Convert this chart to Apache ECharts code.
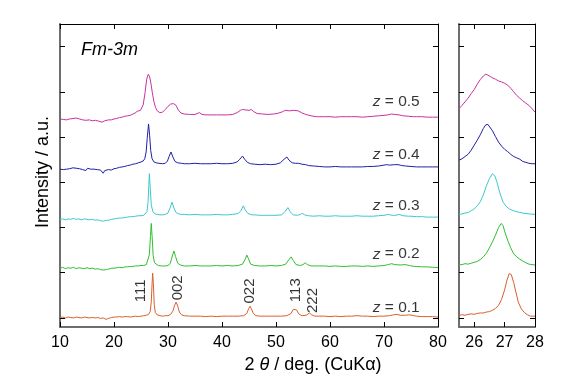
<!DOCTYPE html>
<html><head><meta charset="utf-8">
<script src="https://cdn.jsdelivr.net/npm/echarts@6/dist/echarts.min.js"></script>
<style>html,body{margin:0;padding:0;background:#fff}#c{width:585px;height:387px}</style>
</head><body><div id="c"></div>
<script>
// ---- data ----
const zValues = ['0.1', '0.2', '0.3', '0.4', '0.5'];
const offsets = [0, 110, 220, 332, 443];          // vertical stacking offsets (a.u.)
const zLabelLift = [23, 31, 29, 30, 35];          // z-label height above each offset (a.u.)
const zLabelAt = 76.7;                             // 2θ where z-labels end

const xTicks = [10, 20, 30, 40, 50, 60, 70, 80];
const zoomTicks = [26, 27, 28];
const yTicks = [0, 100, 200, 300, 400, 500, 600];

const hklNames = ['111', '002', '022', '113', '222'];
const hklAt = [25.0, 31.85, 45.2, 53.7, 56.8];
const hklBase = [35, 39, 32, 35, 11];

// z = 0.1
const pattern01 = [[10,1],[10.5,2],[11,0],[11.5,2],[12,1],[12.5,0],[13,2],[13.5,1],[14,0],[14.5,2],[15,1],[15.5,0],[16,1],[16.5,0],[17,1],[17.5,-1],[18,0],[18.5,-3],[19,-1],[19.5,1],[20,2],[20.5,2],[21,3],[21.5,2],[22,3],[22.5,3],[23,2],[23.5,3],[24,4],[24.5,3],[25,4],[25.5,5],[26,6],[26.4,8],[26.7,14],[26.9,35],[27.05,75],[27.16,99],[27.28,78],[27.45,30],[27.65,12],[28,7],[28.5,5],[29,4],[29.5,5],[30,5],[30.5,8],[30.9,15],[31.2,27],[31.5,35],[31.8,26],[32.1,13],[32.5,7],[33,5],[34,4],[35,4],[36,4],[37,3],[38,4],[39,3],[40,4],[41,4],[42,4],[43,4],[44,5],[44.6,10],[44.95,21],[45.2,26],[45.45,20],[45.8,10],[46.3,5],[47,4],[48,4],[49,4],[50,4],[51,4],[52,5],[52.8,10],[53.2,19],[53.5,23],[53.8,18],[54.2,9],[54.8,5],[55.6,6],[56.2,11],[56.6,7],[57.2,4],[58,4],[59,4],[60,3],[61,4],[62,3],[63,4],[64,4],[65,5],[66,4],[67,4],[68,3],[69,4],[70,4],[71,5],[71.8,7],[72.4,8],[73,6],[74,6],[74.7,7],[75.5,5],[76,4],[77,3],[78,3],[79,3],[80,2]];
// z = 0.2
const pattern02 = [[10,0],[10.5,2],[11,-1],[11.5,1],[12,0],[12.5,2],[13,-1],[13.5,1],[14,0],[14.5,-1],[15,1],[15.5,-1],[16,0],[16.5,-2],[17,-1],[17.5,-3],[18,-4],[18.3,-7],[18.6,-3],[19,-2],[19.5,0],[20,0],[20.5,1],[21,2],[21.5,1],[22,3],[22.5,3],[23,4],[23.5,4],[24,5],[24.5,5],[25,6],[25.5,6],[26,8],[26.3,12],[26.55,30],[26.75,70],[26.9,99],[27.05,72],[27.25,28],[27.5,12],[27.8,8],[28.2,6],[28.8,5],[29.5,5],[30,6],[30.4,10],[30.8,27],[31.1,38],[31.4,26],[31.8,11],[32.3,7],[33,5],[34,5],[35,6],[36,5],[37,5],[38,5],[39,6],[40,5],[41,6],[42,5],[43,6],[43.8,9],[44.3,20],[44.6,29],[44.9,21],[45.3,9],[46,6],[47,5],[48,5],[49,6],[50,5],[51,6],[51.8,9],[52.4,19],[52.8,25],[53.2,17],[53.7,8],[54.5,6],[55,8],[55.4,12],[55.8,8],[56.5,5],[57.5,5],[58,5],[59,5],[60,4],[61,5],[62,4],[63,4],[64,5],[65,5],[66,4],[67,5],[68,4],[69,5],[70,6],[70.8,8],[71.4,10],[72,8],[73,7],[73.9,8],[74.7,6],[75.5,4],[76,4],[77,3],[78,3],[79,2],[80,1.5]];
// z = 0.3
const pattern03 = [[10,-2],[10.5,-1],[11,-3],[11.5,-1],[12,-2],[12.5,0],[13,-2],[13.5,-1],[14,-3],[14.5,-1],[15,-2],[15.5,-3],[16,-2],[16.5,-4],[17,-3],[17.5,-5],[18,-6],[18.3,-9],[18.6,-4],[19,-4],[19.5,-2],[20,-1],[20.5,0],[21,1],[21.5,1],[22,2],[22.5,3],[23,4],[23.5,4],[24,5],[24.5,6],[25,6],[25.5,7],[25.8,9],[26.1,15],[26.3,35],[26.45,75],[26.55,99],[26.7,70],[26.9,30],[27.2,15],[27.6,10],[28,9],[28.5,8],[29,8],[29.5,9],[30,12],[30.4,24],[30.75,36],[31.1,23],[31.5,13],[32,10],[32.5,9],[33,9],[34,8],[35,9],[36,8],[37,8],[38,8],[39,9],[40,8],[41,8],[42,9],[43,11],[43.5,17],[43.95,28],[44.3,19],[44.8,11],[45.5,8],[46,8],[47,7],[48,7],[49,7],[50,7],[51,8],[51.6,14],[52.2,24],[52.6,15],[53.2,8],[54,7],[54.5,9],[54.9,11],[55.3,8],[56,6],[57,5],[58,6],[59,5],[60,5],[61,6],[62,5],[63,5],[64,5],[65,6],[66,5],[67,5],[68,5],[69,6],[70,7],[70.8,9],[71.5,7],[72.2,7],[72.8,9],[73.5,6],[74.5,5],[75,5],[76,4],[77,4],[78,3],[79,3],[80,3]];
// z = 0.4
const pattern04 = [[10,-3],[10.3,0],[10.6,-4],[10.9,-1],[11.2,-3],[11.5,1],[11.8,-2],[12.1,-4],[12.4,0],[12.7,-3],[13,-1],[13.3,-5],[13.6,-2],[13.9,0],[14.2,-4],[14.5,-2],[14.8,-6],[15.1,-1],[15.4,-4],[15.7,-3],[16,-7],[16.3,-3],[16.6,-6],[16.9,-4],[17.2,-8],[17.5,-5],[17.8,-9],[18.0,-12],[18.3,-6],[18.6,-8],[19,-4],[19.5,-5],[20,-2],[20.5,-1],[21,1],[21.5,2],[22,3],[22.5,5],[23,6],[23.5,8],[24,9],[24.5,11],[25,13],[25.4,15],[25.7,20],[25.95,35],[26.15,65],[26.4,97],[26.6,72],[26.8,38],[27.05,20],[27.4,13],[27.8,11],[28.3,10],[29,9],[29.5,10],[29.9,15],[30.2,25],[30.55,35],[30.9,24],[31.3,14],[31.8,11],[32.5,10],[33,9],[34,9],[35,10],[36,9],[37,9],[38,9],[39,10],[40,9],[41,9],[42,10],[42.8,13],[43.3,19],[43.8,26],[44.2,19],[44.7,12],[45.3,9],[46,8],[47,7],[48,8],[49,7],[50,8],[50.8,11],[51.5,19],[52,24],[52.4,17],[53,11],[53.6,10],[54.2,10],[54.8,8],[55.5,7],[56,5],[57,4],[58,3],[59,2],[60,2],[61,3],[62,2],[63,2],[64,2],[65,2],[66,2],[67,3],[68,3],[69,4],[70,6],[70.5,7],[71,6],[72,7],[72.6,7],[73.3,5],[74,4],[75,3],[76,2],[77,2],[78,2],[79,2],[80,2]];
// z = 0.5
const pattern05 = [[10,-3],[10.3,-1],[10.6,-4],[10.9,-2],[11.2,-5],[11.5,-1],[11.8,-3],[12.1,-5],[12.4,-2],[12.7,-4],[13,-1],[13.3,-5],[13.6,-3],[13.9,-2],[14.2,-5],[14.5,-3],[14.8,-6],[15.1,-2],[15.4,-5],[15.7,-4],[16,-7],[16.3,-4],[16.6,-6],[16.9,-5],[17.2,-8],[17.5,-6],[17.8,-10],[18.0,-12],[18.3,-7],[18.6,-8],[19,-5],[19.5,-5],[20,-3],[20.5,-2],[21,0],[21.5,1],[22,3],[22.5,4],[23,5],[23.5,8],[23.9,10],[24.3,14],[24.6,12],[24.9,16],[25.4,28],[25.75,55],[26.05,85],[26.35,96],[26.6,90],[26.85,75],[27.1,55],[27.4,35],[27.7,22],[28,15],[28.5,11],[29,12],[29.5,18],[30,25],[30.5,30],[31,31],[31.5,27],[31.9,17],[32.4,10],[33,8],[34,7],[35,7],[35.8,11],[36.3,7],[37,6],[38,6],[39,6],[40,6],[41,6],[42,7],[42.8,11],[43.4,16],[43.8,18],[44.4,17],[45,16],[45.4,18],[45.9,13],[46.5,9],[47.5,8],[48.5,7],[49.6,8],[50.5,10],[51.2,13],[51.7,16],[52.5,15],[53.3,16],[54.1,15],[54.7,11],[55.5,7],[56.5,4],[57.5,2],[58,2],[59,2],[60,2],[61,1],[62,2],[63,2],[64,2],[65,2],[66,1],[67,2],[68,3],[69,4],[70,5],[70.7,6],[71.4,8],[72,7],[72.8,6],[73.5,4],[74.5,3],[75.5,2],[76,2],[77,2],[78,1],[79,1],[80,1]];

// zoomed 111 region (own scaling, absolute a.u.)
const zoom01 = [[25.5,6],[25.6,7],[25.7,6],[25.8,8],[25.9,9],[26.0,8],[26.1,10],[26.2,11],[26.3,11],[26.4,13],[26.5,14],[26.6,17],[26.7,21],[26.8,28],[26.9,41],[27.0,62],[27.08,84],[27.15,98],[27.22,96],[27.3,78],[27.38,55],[27.45,35],[27.55,20],[27.65,12],[27.75,7],[27.85,4],[28.0,4]];
const zoom02 = [[25.5,117],[25.6,118],[25.7,120],[25.8,119],[25.9,121],[26.0,123],[26.1,125],[26.2,129],[26.3,135],[26.4,143],[26.5,155],[26.6,168],[26.7,183],[26.8,200],[26.89,209],[26.95,204],[27.0,192],[27.1,172],[27.2,155],[27.3,142],[27.4,135],[27.5,130],[27.6,126],[27.7,122],[27.8,119],[27.9,118],[28.0,117]];
const zoom03 = [[25.5,229],[25.6,230],[25.7,232],[25.8,233],[25.9,237],[26.0,241],[26.1,248],[26.2,257],[26.3,272],[26.4,292],[26.5,308],[26.6,319],[26.68,314],[26.75,300],[26.85,275],[26.95,256],[27.05,247],[27.15,241],[27.3,237],[27.45,234],[27.6,232],[27.8,230],[28.0,229]];
const zoom04 = [[25.5,349],[25.6,352],[25.7,357],[25.8,362],[25.9,371],[26.0,382],[26.1,393],[26.2,405],[26.3,419],[26.38,427],[26.45,428],[26.5,425],[26.6,414],[26.7,401],[26.8,389],[26.9,380],[27.0,373],[27.1,368],[27.2,362],[27.3,357],[27.4,354],[27.5,351],[27.6,346],[27.7,344],[27.75,347],[27.8,342],[27.9,341],[28.0,341]];
const zoom05 = [[25.5,463],[25.6,470],[25.7,478],[25.8,486],[25.9,496],[26.0,505],[26.1,517],[26.2,527],[26.3,535],[26.38,539],[26.45,537],[26.53,534],[26.6,531],[26.7,528],[26.8,524],[26.9,522],[27.0,519],[27.1,515],[27.2,508],[27.3,500],[27.4,492],[27.5,486],[27.6,480],[27.7,475],[27.8,470],[27.9,463],[28.0,455]];

const patterns = [pattern01, pattern02, pattern03, pattern04, pattern05];
const zooms = [zoom01, zoom02, zoom03, zoom04, zoom05];
const colors = ['#d8602c', '#2fbf2f', '#3cc8d0', '#2020a8', '#c8329f'];

// ---- chart ----
const FONT = 'Liberation Sans, Arial, Helvetica, sans-serif';
const chart = echarts.init(document.getElementById('c'), null, {renderer: 'canvas'});

function xAxisCfg(grid, pos, min, max, ticks, labels, gray) {
  return {
    gridIndex: grid, type: 'value', position: pos, min: min, max: max,
    axisLine: {show: true, onZero: false, lineStyle: {color: gray ? '#6e6e6e' : '#000', width: gray ? 2 : 1}},
    axisTick: {show: true, inside: true, length: 5, customValues: ticks, lineStyle: {color: '#000', width: 1}},
    axisLabel: {show: labels, customValues: ticks, color: '#000', fontSize: 16, fontFamily: FONT, margin: 8},
    splitLine: {show: false}
  };
}
function yAxisCfg(grid, pos, gray) {
  return {
    gridIndex: grid, type: 'value', position: pos, min: -20, max: 650,
    axisLine: {show: true, onZero: false, lineStyle: {color: gray ? '#6e6e6e' : '#000', width: gray ? 2 : 1}},
    axisTick: {show: true, inside: true, length: 5, customValues: yTicks, lineStyle: {color: '#000', width: 1}},
    axisLabel: {show: false},
    splitLine: {show: false}
  };
}

const series = [];
patterns.forEach((p, i) => {
  series.push({
    type: 'line', xAxisIndex: 0, yAxisIndex: 0, showSymbol: false, symbol: 'none',
    data: p.map(d => [d[0], d[1] + offsets[i]]),
    lineStyle: {color: colors[i], width: 1}, clip: true, z: 2
  });
});
zooms.forEach((p, i) => {
  series.push({
    type: 'line', xAxisIndex: 2, yAxisIndex: 2, showSymbol: false, symbol: 'none',
    data: p, lineStyle: {color: colors[i], width: 1}, clip: true, z: 2
  });
});
// z labels
series.push({
  type: 'scatter', xAxisIndex: 0, yAxisIndex: 0, symbolSize: 1,
  itemStyle: {color: 'rgba(0,0,0,0)'}, silent: true,
  data: zValues.map((z, i) => ({value: [zLabelAt, offsets[i] + zLabelLift[i]], name: z})),
  label: {
    show: true, position: 'left', distance: 0, color: '#000', fontSize: 15.5, fontFamily: FONT,
    formatter: p => '{i|z} = ' + p.name,
    rich: {i: {fontStyle: 'italic', fontSize: 15.5, fontFamily: FONT, color: '#000'}}
  }
});
// hkl labels
series.push({
  type: 'scatter', xAxisIndex: 0, yAxisIndex: 0, symbolSize: 1,
  itemStyle: {color: 'rgba(0,0,0,0)'}, silent: true,
  data: hklNames.map((h, i) => ({value: [hklAt[i], hklBase[i]], name: h})),
  label: {
    show: true, position: 'inside', rotate: 90, align: 'left', verticalAlign: 'middle',
    color: '#000', fontSize: 15, fontFamily: FONT, formatter: p => p.name
  }
});

chart.setOption({
  animation: false,
  backgroundColor: '#fff',
  grid: [
    {left: 60, right: 147, top: 24, bottom: 60},
    {left: 459, right: 50, top: 24, bottom: 60}
  ],
  xAxis: [
    xAxisCfg(0, 'bottom', 10, 80, xTicks, true, true),
    xAxisCfg(0, 'top', 10, 80, xTicks, false, false),
    xAxisCfg(1, 'bottom', 25.5, 28, zoomTicks, true, true),
    xAxisCfg(1, 'top', 25.5, 28, zoomTicks, false, false)
  ],
  yAxis: [
    yAxisCfg(0, 'left', true),
    yAxisCfg(0, 'right', false),
    yAxisCfg(1, 'left', true),
    yAxisCfg(1, 'right', false)
  ],
  series: series,
  graphic: [
    {type: 'text', x: 81, y: 50, style: {text: 'Fm-3m', fontSize: 18, fontStyle: 'italic', fontFamily: FONT, fill: '#000', align: 'left', verticalAlign: 'middle'}},
    {type: 'text', x: 313, y: 365, style: {text: '2 {i|θ} / deg. (CuKα)', fontSize: 18, fontFamily: FONT, fill: '#000', align: 'center', verticalAlign: 'middle',
      rich: {i: {fontStyle: 'italic', fontSize: 18, fontFamily: FONT, fill: '#000'}}}},
    {type: 'text', x: 43, y: 172, rotation: Math.PI / 2, style: {text: 'Intensity / a.u.', fontSize: 18, fontFamily: FONT, fill: '#000', align: 'center', verticalAlign: 'middle'}}
  ]
});
</script></body></html>
